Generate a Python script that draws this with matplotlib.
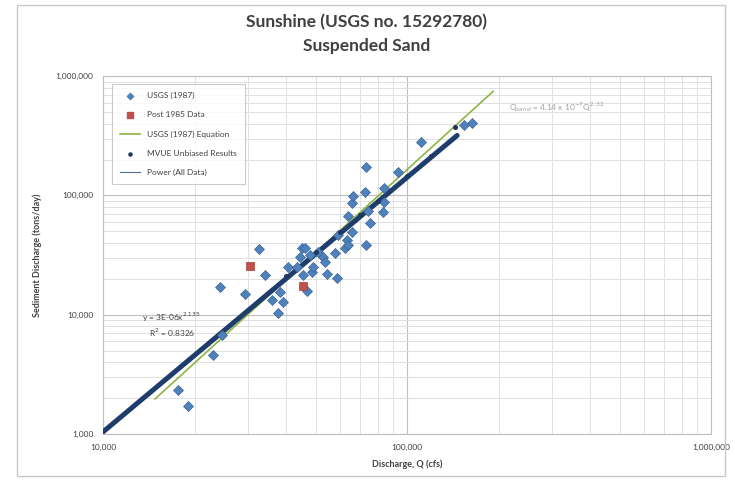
import numpy as np
import matplotlib
matplotlib.use("Agg")
import matplotlib.pyplot as plt
from matplotlib.patches import Rectangle
from matplotlib.ticker import FixedLocator, LogLocator, NullFormatter

# Sunshine gauge (USGS 15292780) suspended sand rating curve

plt.rcParams['font.family'] = ['Lato', 'DejaVu Sans']

# USGS (1987) samples: discharge (cfs) and sand load (tons/day)
usgs_q = [17650, 19050, 23000, 24600, 24300, 29300, 32600, 34100, 36000,
          37700, 38200, 39100, 40600, 43500, 44500, 45200, 45500, 46200,
          46900, 48000, 48700, 49100, 50900, 52900, 53700, 54600, 57900,
          58900, 59300, 62500, 63500, 63900, 63900, 65900, 65900, 66400,
          72800, 73300, 73300, 74500, 75500, 83400, 84000, 84000, 93300,
          111200, 154000, 163700]
usgs_qs = [2340, 1720, 4620, 6790, 17200, 15000, 35900, 21700, 13400,
           10400, 15600, 12900, 24900, 24900, 30700, 36500, 21700, 36500,
           15900, 31900, 23000, 25300, 33800, 30700, 27900, 22100, 33200,
           20500, 47000, 36500, 42700, 38700, 66700, 48900, 85700, 98000,
           106000, 171800, 38700, 73400, 59300, 72000, 114500, 87300, 156000,
           278500, 387000, 402000]

# samples collected after 1985
post_q = [30500, 45500]
post_qs = [25800, 17500]

# MVUE bias-corrected estimates (sit on the power trend)
mvue_q = [40000, 50000, 60000, 70000, 80000, 100000, 120000, 143900]
mvue_qs = [21000, 33500, 49000, 68000, 90000, 145000, 214000, 372000]

# power fit to all data: y = a x^b
fit_a, fit_b = 3e-06, 2.135
fit_range = [10000, 146000]

# USGS (1987) sediment rating equation
eq_a, eq_b = 4.14e-07, 2.32
eq_range = [14830, 191800]

fig = plt.figure(figsize=(7.33, 4.82), dpi=100)
fig.patches.append(Rectangle((0.023, 0.012), 0.966, 0.978, transform=fig.transFigure,
                             fill=False, edgecolor='#c8c8c8', linewidth=1.0))
ax = fig.add_axes([0.1405, 0.0996, 0.830, 0.7424])

ax.set_xscale('log')
ax.set_yscale('log')
ax.set_xlim(1e4, 1e6)
ax.set_ylim(1e3, 1e6)

ax.xaxis.set_major_locator(FixedLocator([1e4, 1e5, 1e6]))
ax.yaxis.set_major_locator(FixedLocator([1e3, 1e4, 1e5, 1e6]))
ax.xaxis.set_minor_locator(LogLocator(base=10, subs=np.arange(2, 10)))
ax.yaxis.set_minor_locator(LogLocator(base=10, subs=np.arange(2, 10)))
ax.xaxis.set_minor_formatter(NullFormatter())
ax.yaxis.set_minor_formatter(NullFormatter())
ax.set_xticklabels(['10,000', '100,000', '1,000,000'])
ax.set_yticklabels(['1,000', '10,000', '100,000', '1,000,000'])
ax.tick_params(which='both', length=0, labelsize=6, colors='#404040', pad=7)

ax.grid(which='major', color='#bfbfbf', linewidth=0.8)
ax.grid(which='minor', color='#e0e0e0', linewidth=0.7)
ax.set_axisbelow(True)
for s in ax.spines.values():
    s.set_color('#bfbfbf')
    s.set_linewidth(0.8)

xf = np.array(fit_range, dtype=float)
ax.plot(xf, fit_a * xf ** fit_b, color='#1f3d6b', linewidth=3.6,
        solid_capstyle='round', zorder=3)
xe = np.array(eq_range, dtype=float)
ax.plot(xe, eq_a * xe ** eq_b, color='#8db446', linewidth=1.2, zorder=2)

ax.scatter(usgs_q, usgs_qs, marker='D', s=26, color='#4f81bd',
           edgecolors='#3a6596', linewidths=0.5, zorder=4)
ax.scatter(post_q, post_qs, marker='s', s=40, color='#c0504d',
           edgecolors='#a03c3a', linewidths=0.5, zorder=5)
ax.scatter(mvue_q, mvue_qs, marker='o', s=7, color='#1f3864', zorder=6)

# legend built from proxy handles so it keeps the Excel look
h_usgs = ax.scatter([], [], marker='D', s=10, color='#4f81bd')
h_post = ax.scatter([], [], marker='s', s=22, color='#c0504d')
h_eq, = ax.plot([], [], color='#8db446', linewidth=1.2)
h_mvue = ax.scatter([], [], marker='o', s=5, color='#1f3864')
h_pow, = ax.plot([], [], color='#4f6f9f', linewidth=0.8)
leg = ax.legend([h_usgs, h_post, h_eq, h_mvue, h_pow],
                ['USGS (1987)', 'Post 1985 Data', 'USGS (1987) Equation',
                 'MVUE Unbiased Results', 'Power (All Data)'],
                loc='upper left', bbox_to_anchor=(0.008, 0.99), fontsize=6,
                frameon=True, fancybox=False, edgecolor='#bfbfbf',
                labelspacing=1.45, handlelength=2.4, borderpad=1.0,
                labelcolor='#404040')
leg.get_frame().set_linewidth(0.8)

ax.text(0.113, 0.315, 'y = 3E-06x$^{2.135}$', transform=ax.transAxes,
        fontsize=6, color='#404040', ha='center')
ax.text(0.113, 0.27, 'R$^2$ = 0.8326', transform=ax.transAxes,
        fontsize=6, color='#404040', ha='center')
ax.text(0.745, 0.905, 'Q$_{sand}$ = 4.14 x 10$^{-7}$Q$^{2.32}$',
        transform=ax.transAxes, fontsize=6, color='#a0a0a0', ha='center')

ax.set_xlabel('Discharge, Q (cfs)', fontsize=6.5, fontweight='bold',
              color='#404040', labelpad=6)
ax.set_ylabel('Sediment Discharge (tons/day)', fontsize=6.5, fontweight='bold',
              color='#404040', labelpad=10)

fig.text(0.5, 0.955, 'Sunshine (USGS no. 15292780)', ha='center', va='center',
         fontsize=12.5, fontweight='bold', color='#404040')
fig.text(0.5, 0.905, 'Suspended Sand', ha='center', va='center',
         fontsize=12.5, fontweight='bold', color='#404040')

fig.savefig('out.png', dpi=100)
